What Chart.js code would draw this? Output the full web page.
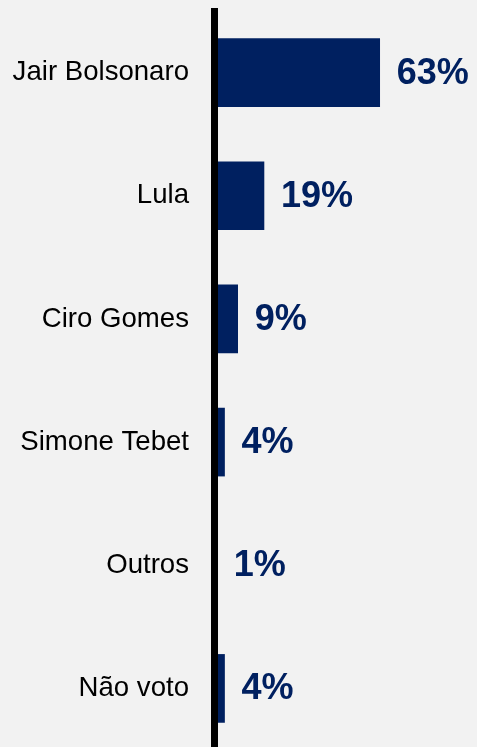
<!DOCTYPE html>
<html>
<head>
<meta charset="utf-8">
<script src="https://cdn.jsdelivr.net/npm/chart.js@4"></script>
<style>
	html, body { margin: 0; padding: 0; background: #f2f2f2; overflow: hidden; }
	canvas { display: block; }
</style>
</head>
<body>
<canvas id="canvas" width="477" height="750"></canvas>
<script>
const canvas = document.getElementById('canvas');
const ctx = canvas.getContext('2d');

const candidates = ['Jair Bolsonaro', 'Lula', 'Ciro Gomes', 'Simone Tebet', 'Outros', 'Não voto'];
const votes = [63, 19, 9, 4, 1, 4];
const voteLabels = ['63%', '19%', '9%', '4%', '1%', '4%'];

const navy = '#002060';

// value text to the right of each bar
const valueLabels = {
	id: 'valueLabels',
	afterDatasetsDraw(chart) {
		const c = chart.ctx;
		const meta = chart.getDatasetMeta(0);
		c.save();
		c.font = 'bold 36px "Liberation Sans", Arial, sans-serif';
		c.fillStyle = navy;
		c.textAlign = 'left';
		c.textBaseline = 'middle';
		meta.data.forEach((bar, i) => {
			c.fillText(voteLabels[i], bar.x + 17, bar.y + 1);
		});
		c.restore();
	},
};

const chart = new Chart(ctx, {
	type: 'bar',
	data: {
		labels: candidates,
		datasets: [
			{
				data: votes,
				backgroundColor: navy,
				borderWidth: 0,
				barThickness: 68,
			},
		],
	},
	options: {
		indexAxis: 'y',
		responsive: false,
		animation: false,
		layout: { padding: { top: 11, left: 0, right: 0, bottom: 0 } },
		plugins: {
			legend: { display: false },
			tooltip: { enabled: false },
		},
		scales: {
			x: {
				display: false,
				min: 0,
				max: 100,
			},
			y: {
				grid: { display: false, drawTicks: false },
				border: { display: true, color: '#000', width: 7, z: 1 },
				ticks: {
					color: '#000',
					padding: 25,
					font: { family: '"Liberation Sans", Arial, sans-serif', size: 27.6 },
				},
				afterFit(scale) {
					scale.width = 214;
					scale.paddingTop = 0;
					scale.paddingBottom = 0;
				},
			},
		},
	},
	plugins: [valueLabels],
});
</script>
</body>
</html>
